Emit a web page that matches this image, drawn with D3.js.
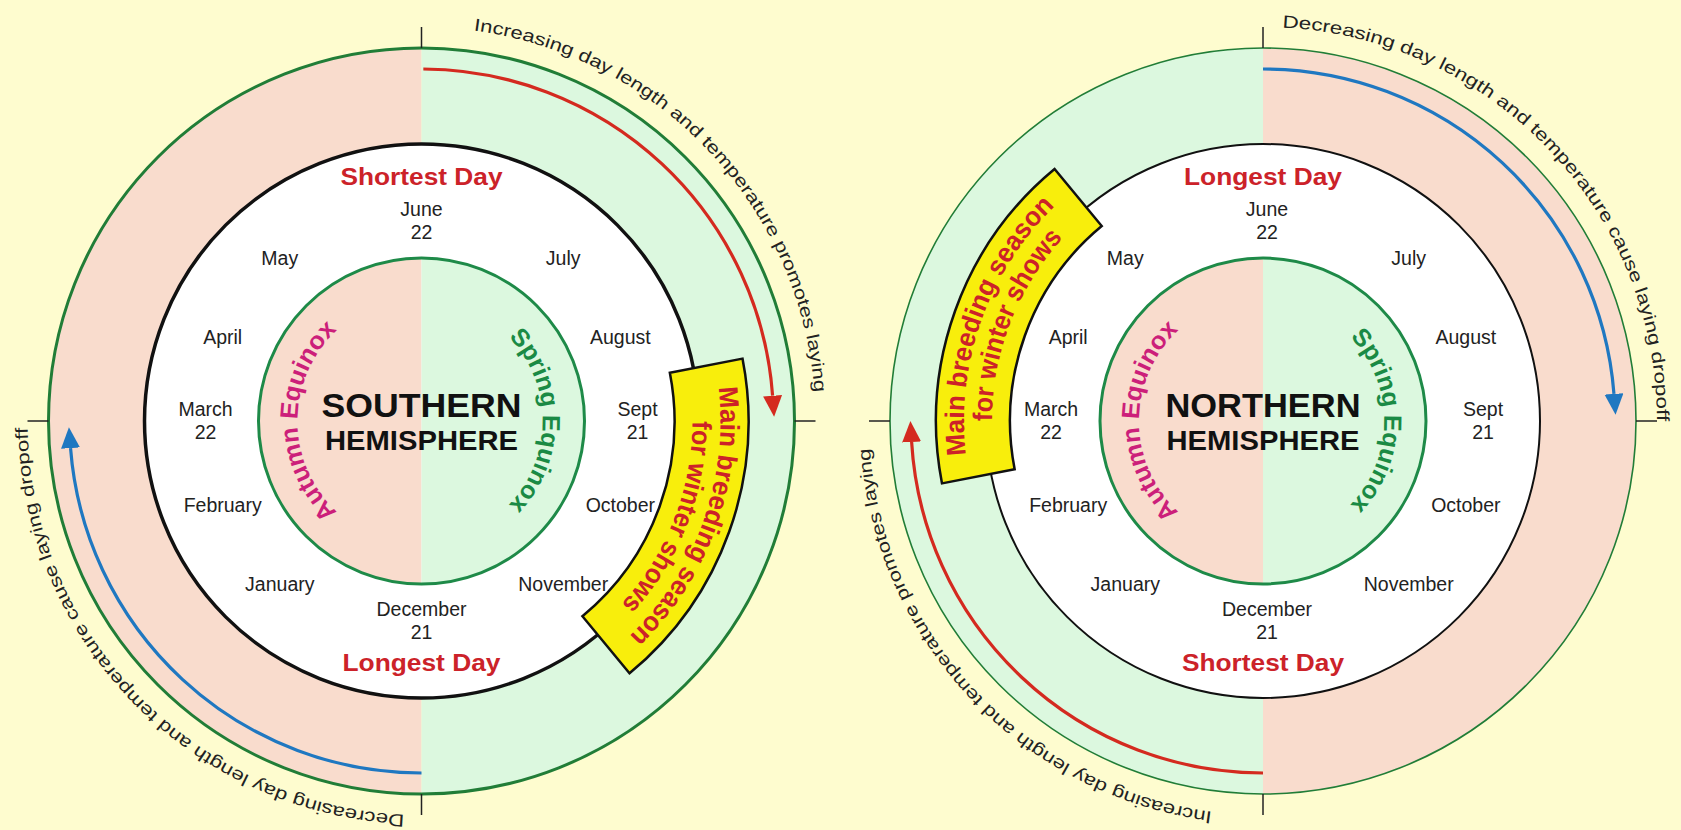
<!DOCTYPE html>
<html><head><meta charset="utf-8">
<script src="https://cdn.jsdelivr.net/npm/d3@7"></script>
<style>
html,body{margin:0;padding:0;background:#fefccf;overflow:hidden}
svg{display:block}
text{font-family:"Liberation Sans",Arial,Helvetica,sans-serif}
</style></head><body>
<svg id="chart" width="1681" height="830"></svg>
<script>
// ---------------- data ----------------
const hemispheres = ["SOUTHERN", "NORTHERN"];
const hemisphereWord = "HEMISPHERE";
const topDayLabels = ["Shortest Day", "Longest Day"];
const bottomDayLabels = ["Longest Day", "Shortest Day"];
// months clockwise starting at the top (June)
const monthNames = ["June","July","August","Sept","October","November","December","January","February","March","April","May"];
const monthDates = ["22","","","21","","","21","","","22","",""];
const equinoxLabels = ["Autumn Equinox", "Spring Equinox"];
const breedingLines = ["Main breeding season", "for winter shows"];
const breedingSpanDeg = [[79, 140.5], [259, 320.4]];          // clockwise from top
const topRightTexts = ["Increasing day length and temperature promotes laying",
                       "Decreasing day length and temperature cause laying dropoff"];
const topRightTextSpan = [[7.6, 85.8], [2.8, 90]];
const bottomLeftTexts = ["Decreasing day length and temperature cause laying dropoff",
                         "Increasing day length and temperature promotes laying"];
const bottomLeftTextSpan = [[182.5, 269], [187.4, 266]];
const topRightArrowSpan = [[0.3, 89.3], [0, 89]];
const bottomLeftArrowSpan = [[180, 269], [180, 270]];
const topRightArrowKind = ["red", "blue"];
const bottomLeftArrowKind = ["blue", "red"];
const outerLeftFill = ["pink", "green"];
const outerRightFill = ["green", "pink"];

// ---------------- layout / style ----------------
const W = 1681, H = 830;
const centers = [[421.5, 421], [1263, 421]];
const R_OUT = 373, R_BLACK = 277, R_INNER = 163, R_ARROW = 352, R_TEXT = 394;
const BOX_IN = 253, BOX_OUT = 327;
const colors = {pink:"#f9dccd", green:"#dcf8df", red:"#d42a1f", blue:"#1f78c1",
  outerGreen:"#217d37", innerGreen:"#1e8a48", dayRed:"#cc2229", magenta:"#cc1f7a",
  springGreen:"#1a8a44", yellow:"#f8ee0c"};
const outerStroke = [3, 1.6], blackStroke = [3.5, 2];
const monthShift = [0, 4];
const HEAD_LEN = 21, HEAD_HALF = 9.5;

const rad = d => d * Math.PI / 180;
const pt = (c, r, t) => [c[0] + r * Math.sin(rad(t)), c[1] - r * Math.cos(rad(t))];
const arcD = (c, r, t0, t1) => { const p = d3.path(); p.arc(c[0], c[1], r, rad(t0 - 90), rad(t1 - 90), false); return p.toString(); };
const angleScale = d3.scaleLinear().domain([0,1,2,3,4,5,6]).range([0,41,67,90,113,139,180]);

const svg = d3.select("#chart");
svg.append("rect").attr("width", W).attr("height", H).attr("fill", "#fefccf");
const defs = svg.append("defs");
["red","blue"].forEach(k => {
  defs.append("marker").attr("id", "head-" + k)
    .attr("markerUnits", "userSpaceOnUse").attr("markerWidth", HEAD_LEN + 2).attr("markerHeight", 2 * HEAD_HALF + 2)
    .attr("refX", 0).attr("refY", HEAD_HALF).attr("orient", "auto")
    .append("path").attr("d", `M0,0L${HEAD_LEN},${HEAD_HALF}L0,${2 * HEAD_HALF}Z`).attr("fill", colors[k]);
});

function curvedText(g, id, c, r, t0, t1, str, opts) {
  defs.append("path").attr("id", id).attr("d", arcD(c, r, t0, t1));
  const len = r * rad(t1 - t0);
  g.append("text")
    .attr("font-size", opts.size).attr("font-weight", opts.weight || "normal").attr("fill", opts.fill)
    .append("textPath").attr("href", "#" + id)
    .attr("textLength", len).attr("lengthAdjust", "spacingAndGlyphs")
    .text(str);
}

hemispheres.forEach((hemi, h) => {
  const c = centers[h];
  const g = svg.append("g");
  const arc = d3.arc();
  // outer disc halves
  g.append("path").attr("transform", `translate(${c})`)
    .attr("d", arc({innerRadius:0, outerRadius:R_OUT, startAngle:Math.PI, endAngle:2*Math.PI}))
    .attr("fill", colors[outerLeftFill[h]]);
  g.append("path").attr("transform", `translate(${c})`)
    .attr("d", arc({innerRadius:0, outerRadius:R_OUT, startAngle:0, endAngle:Math.PI}))
    .attr("fill", colors[outerRightFill[h]]);
  // white ring
  g.append("circle").attr("cx", c[0]).attr("cy", c[1]).attr("r", R_BLACK).attr("fill", "#fff");
  // inner halves
  g.append("path").attr("transform", `translate(${c})`)
    .attr("d", arc({innerRadius:0, outerRadius:R_INNER, startAngle:Math.PI, endAngle:2*Math.PI}))
    .attr("fill", colors.pink);
  g.append("path").attr("transform", `translate(${c})`)
    .attr("d", arc({innerRadius:0, outerRadius:R_INNER, startAngle:0, endAngle:Math.PI}))
    .attr("fill", colors.green);
  // circle strokes
  g.append("circle").attr("cx", c[0]).attr("cy", c[1]).attr("r", R_OUT)
    .attr("fill", "none").attr("stroke", colors.outerGreen).attr("stroke-width", outerStroke[h]);
  g.append("circle").attr("cx", c[0]).attr("cy", c[1]).attr("r", R_BLACK)
    .attr("fill", "none").attr("stroke", "#111").attr("stroke-width", blackStroke[h]);
  g.append("circle").attr("cx", c[0]).attr("cy", c[1]).attr("r", R_INNER)
    .attr("fill", "none").attr("stroke", colors.innerGreen).attr("stroke-width", 3);
  // ticks
  [0, 90, 180, 270].forEach(t => {
    const a = pt(c, R_OUT, t), b = pt(c, R_OUT + 21, t);
    g.append("line").attr("x1", a[0]).attr("y1", a[1]).attr("x2", b[0]).attr("y2", b[1])
      .attr("stroke", "#222").attr("stroke-width", 1.5);
  });
  // arrows
  const headDeg = HEAD_LEN / R_ARROW * 180 / Math.PI;
  [[topRightArrowSpan[h], topRightArrowKind[h]], [bottomLeftArrowSpan[h], bottomLeftArrowKind[h]]].forEach(([sp, k]) => {
    g.append("path").attr("d", arcD(c, R_ARROW, sp[0], sp[1] - headDeg))
      .attr("fill", "none").attr("stroke", colors[k]).attr("stroke-width", 3.2)
      .attr("marker-end", `url(#head-${k})`);
  });
  // breeding box
  const bs = breedingSpanDeg[h];
  g.append("path").attr("transform", `translate(${c})`)
    .attr("d", arc({innerRadius:BOX_IN, outerRadius:BOX_OUT, startAngle:rad(bs[0]), endAngle:rad(bs[1])}))
    .attr("fill", colors.yellow).attr("stroke", "#111").attr("stroke-width", 2.5).attr("stroke-linejoin", "miter");
  const mid = (bs[0] + bs[1]) / 2;
  curvedText(g, `box1-${h}`, c, 299, mid - 26.2, mid + 26.2, breedingLines[0], {size:27, weight:"bold", fill:colors.dayRed});
  curvedText(g, `box2-${h}`, c, 271, mid - 21.25 + 1.5, mid + 21.25 + 1.5, breedingLines[1], {size:27, weight:"bold", fill:colors.dayRed});
  // outer curved texts
  curvedText(g, `tr-${h}`, c, R_TEXT, topRightTextSpan[h][0], topRightTextSpan[h][1], topRightTexts[h], {size:17.5, fill:"#222"});
  curvedText(g, `bl-${h}`, c, R_TEXT, bottomLeftTextSpan[h][0], bottomLeftTextSpan[h][1], bottomLeftTexts[h], {size:17.5, fill:"#222"});
  // equinox texts
  curvedText(g, `aut-${h}`, c, 124, 270 - 47.15, 270 + 47.15, equinoxLabels[0], {size:25, weight:"bold", fill:colors.magenta});
  curvedText(g, `spr-${h}`, c, 121, 90 - 43.85, 90 + 43.85, equinoxLabels[1], {size:25, weight:"bold", fill:colors.springGreen});
  // hemisphere title
  g.append("text").attr("x", c[0]).attr("y", c[1] - 4).attr("text-anchor", "middle")
    .attr("font-size", 33).attr("font-weight", "bold").attr("fill", "#111")
    .attr("textLength", h === 0 ? 200 : 195).attr("lengthAdjust", "spacingAndGlyphs").text(hemi);
  g.append("text").attr("x", c[0]).attr("y", c[1] + 29).attr("text-anchor", "middle")
    .attr("font-size", 28).attr("font-weight", "bold").attr("fill", "#111")
    .attr("textLength", 193).attr("lengthAdjust", "spacingAndGlyphs").text(hemisphereWord);
  // day labels
  const dayLen = s => s.startsWith("Shortest") ? 162 : 158;
  g.append("text").attr("x", c[0]).attr("y", c[1] - 236).attr("text-anchor", "middle")
    .attr("font-size", 23).attr("font-weight", "bold").attr("fill", colors.dayRed)
    .attr("textLength", dayLen(topDayLabels[h])).attr("lengthAdjust", "spacingAndGlyphs").text(topDayLabels[h]);
  g.append("text").attr("x", c[0]).attr("y", c[1] + 250).attr("text-anchor", "middle")
    .attr("font-size", 23).attr("font-weight", "bold").attr("fill", colors.dayRed)
    .attr("textLength", dayLen(bottomDayLabels[h])).attr("lengthAdjust", "spacingAndGlyphs").text(bottomDayLabels[h]);
  // months
  monthNames.forEach((m, i) => {
    const k = i <= 6 ? i : 12 - i;
    const a = angleScale(k);
    const t = i <= 6 ? a : 360 - a;
    const r = (k === 0 || k === 6) ? 200 : 216;
    const p = pt(c, r, t);
    const x = p[0] + monthShift[h];
    const tx = g.append("text").attr("text-anchor", "middle").attr("font-size", 19.5).attr("fill", "#222");
    if (monthDates[i]) {
      tx.append("tspan").attr("x", x).attr("y", p[1] - 5).text(m);
      tx.append("tspan").attr("x", x).attr("y", p[1] + 18).text(monthDates[i]);
    } else {
      tx.attr("x", x).attr("y", p[1] + 7).text(m);
    }
  });
});
</script>
</body></html>
